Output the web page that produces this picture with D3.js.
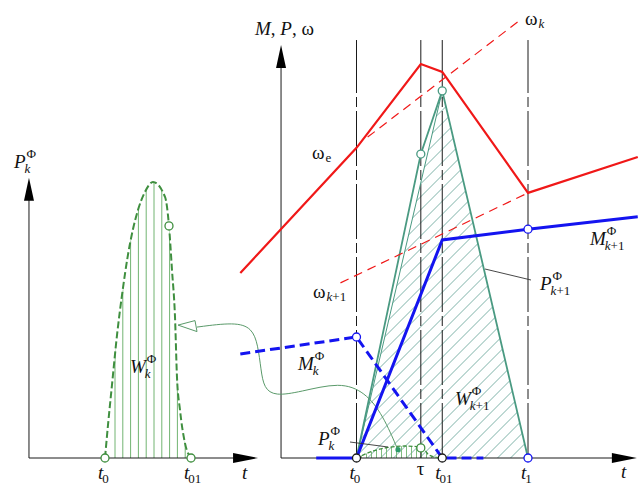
<!DOCTYPE html>
<html>
<head>
<meta charset="utf-8">
<script src="https://cdn.jsdelivr.net/npm/d3@7"></script>
<style>
  body { margin: 0; background: #fff; }
  svg { display: block; }
  text { font-family: "Liberation Serif", "Times New Roman", serif; fill: #111; }
</style>
</head>
<body>
<svg id="chart"></svg>
<script>
// Time marks (t0 = 0, t01 = 1)
const markTimes = [0, 0.75, 1, 2];
const markMain = ["t", "τ", "t", "t"];
const markSub = ["0", "", "01", "1"];

// Left panel: P_k^Φ pulse (normalised, peak = 1)
const pkT = [0, 0.035, 0.081, 0.14, 0.198, 0.267, 0.384, 0.465, 0.558, 0.698, 0.744, 0.779, 0.814, 0.837, 0.872, 0.93, 1];
const pkV = [0, 0.12, 0.264, 0.446, 0.591, 0.736, 0.899, 0.964, 1, 0.946, 0.841, 0.681, 0.511, 0.293, 0.174, 0.054, 0];

// Right panel series (value units 0..100)
const omegaT = [-1.355, 0, 0.75, 1, 2, 3.28];
const omegaV = [44.8, 75.1, 95.4, 93.5, 64.2, 72.9];
const omegaKT = [0.13, 1.88];
const omegaKV = [77.7, 105.6];
const omegaK1T = [-0.187, 2];
const omegaK1V = [42.4, 64.2];
const mkT = [-1.355, 0, 1, 1.48];
const mkV = [25.2, 29.3, 0, 0];
const mk1T = [-0.47, 0, 1, 2, 3.28];
const mk1V = [0, 0, 52.8, 55.4, 58.4];
const pk1T = [0, 0.75, 1, 2];
const pk1V = [0, 73.6, 88.9, 0];

// connector from the small pulse to the enlarged one
const linkT = [-1.86, -1.417, -1.219, -1.149, -1.114, -1.079, -0.95, -0.659, -0.192, 0.099, 0.309, 0.484];
const linkV = [31.7, 32.9, 31.5, 27.4, 21.3, 16.9, 15.0, 16.0, 18.4, 16.0, 10.4, 1.9];

const W = 640, H = 487;
const svg = d3.select("#chart").attr("width", W).attr("height", H);

const xL = d3.scaleLinear().domain([0, 1]).range([105, 191]);
const yL = d3.scaleLinear().domain([0, 1]).range([458, 182]);
const xR = d3.scaleLinear().domain([0, 2]).range([356.5, 528]);
const yR = d3.scaleLinear().domain([0, 100]).range([458, 45]);
const yH = d3.scaleLinear().domain([0, 1]).range([458, 446]);

const leftAxisT = [-0.884, 1.78], leftAxisTop = 1.015;
const rightAxisT = [-0.88, 3.27], rightAxisTop = 100;

const AX = "#1a1a1a";
const RED = "#f01818", BLUE = "#1414f0", TEAL = "#4a9a82", HATCH = "#7fb2a8";
const GREEN = "#3f8f3f", LGREEN = "#72b472";

const defs = svg.append("defs");
const zip = (ts, vs) => ts.map((t, i) => [t, vs[i]]);

// ---------- hatching ----------
const triPts = [[0, 0], [1, 88.9], [2, 0]];
defs.append("clipPath").attr("id", "tri").append("path")
  .attr("d", d3.line().x(d => xR(d[0])).y(d => yR(d[1]))(triPts) + "Z");
svg.append("g").attr("clip-path", "url(#tri)")
  .selectAll("line").data(d3.range(xR(0) - 420, xR(2) + 10, 13)).join("line")
  .attr("x1", d => d).attr("y1", 460).attr("x2", d => d + 430).attr("y2", 30)
  .attr("stroke", HATCH).attr("stroke-width", 1);

const pkData = zip(pkT, pkV);
const areaL = d3.area().curve(d3.curveMonotoneX).x(d => xL(d[0])).y0(yL(0)).y1(d => yL(d[1]));
defs.append("clipPath").attr("id", "pl").append("path").attr("d", areaL(pkData));
svg.append("g").attr("clip-path", "url(#pl)")
  .selectAll("line").data(d3.range(xL(0) + 10, xL(1), 7.8)).join("line")
  .attr("x1", d => d).attr("x2", d => d).attr("y1", yL(0)).attr("y2", yL(1.05))
  .attr("stroke", LGREEN).attr("stroke-width", 1);

const areaH = d3.area().curve(d3.curveMonotoneX).x(d => xR(d[0])).y0(yH(0)).y1(d => yH(d[1]));
defs.append("clipPath").attr("id", "ph").append("path").attr("d", areaH(pkData));
svg.append("g").attr("clip-path", "url(#ph)")
  .selectAll("line").data(d3.range(xR(0) + 5, xR(1), 5)).join("line")
  .attr("x1", d => d).attr("x2", d => d).attr("y1", yH(0)).attr("y2", yH(1.2))
  .attr("stroke", LGREEN).attr("stroke-width", 0.9);

// ---------- axes ----------
function arrowUp(x, y) {
  svg.append("path").attr("d", `M${x},${y} L${x - 5},${y + 23} L${x + 5},${y + 23} Z`).attr("fill", "#000");
}
function arrowRight(x, y) {
  svg.append("path").attr("d", `M${x},${y} L${x - 25},${y - 5} L${x - 25},${y + 5} Z`).attr("fill", "#000");
}
svg.append("line").attr("x1", xL(leftAxisT[0])).attr("x2", xL(leftAxisT[1]) - 5)
  .attr("y1", yL(0)).attr("y2", yL(0)).attr("stroke", AX);
svg.append("line").attr("x1", xL(leftAxisT[0])).attr("x2", xL(leftAxisT[0]))
  .attr("y1", yL(0)).attr("y2", yL(leftAxisTop) + 5).attr("stroke", AX);
arrowUp(xL(leftAxisT[0]), yL(leftAxisTop));
arrowRight(xL(leftAxisT[1]), yL(0));

svg.append("line").attr("x1", xR(rightAxisT[0])).attr("x2", xR(rightAxisT[1]) - 5)
  .attr("y1", yR(0)).attr("y2", yR(0)).attr("stroke", AX);
svg.append("line").attr("x1", xR(rightAxisT[0])).attr("x2", xR(rightAxisT[0]))
  .attr("y1", yR(0)).attr("y2", yR(rightAxisTop) + 5).attr("stroke", AX);
arrowUp(xR(rightAxisT[0]), yR(rightAxisTop));
arrowRight(xR(rightAxisT[1]), yR(0));

// vertical time marks
svg.selectAll(".mark").data(markTimes).join("line").attr("class", "mark")
  .attr("x1", d => xR(d)).attr("x2", d => xR(d))
  .attr("y1", yR(0)).attr("y2", yR(101.2))
  .attr("stroke", AX).attr("stroke-width", 1)
  .attr("stroke-dasharray", "55,4,10,4");

// ---------- lines ----------
const lineR = d3.line().x(d => xR(d[0])).y(d => yR(d[1]));

// P_{k+1}
svg.append("path").attr("d", lineR([[0, 0], [1, 88.9]]))
  .attr("fill", "none").attr("stroke", TEAL).attr("stroke-width", 1);
svg.append("path").attr("d", lineR(zip(pk1T, pk1V)))
  .attr("fill", "none").attr("stroke", TEAL).attr("stroke-width", 1.8);

// P_k enlarged (left) and actual (right)
svg.append("path").attr("d", d3.line().curve(d3.curveMonotoneX).x(d => xL(d[0])).y(d => yL(d[1]))(pkData))
  .attr("fill", "none").attr("stroke", GREEN).attr("stroke-width", 2).attr("stroke-dasharray", "7,3");
svg.append("path").attr("d", d3.line().curve(d3.curveMonotoneX).x(d => xR(d[0])).y(d => yH(d[1]))(pkData))
  .attr("fill", "none").attr("stroke", GREEN).attr("stroke-width", 1.3).attr("stroke-dasharray", "4,2");

// connector
svg.append("path").attr("d", d3.line().curve(d3.curveBasis).x(d => xR(d[0])).y(d => yR(d[1]))(zip(linkT, linkV)))
  .attr("fill", "none").attr("stroke", "#5a9a6a").attr("stroke-width", 1);
{
  const tx = xR(linkT[0]) - 19, ty = yR(linkV[0]) - 2;
  svg.append("path").attr("d", `M${tx},${ty} L${tx + 17},${ty - 4.5} L${tx + 19},${ty + 6.5} Z`)
    .attr("fill", "#fff").attr("stroke", "#5a9a6a").attr("stroke-width", 1);
}

// omega lines
svg.append("path").attr("d", lineR(zip(omegaKT, omegaKV)))
  .attr("fill", "none").attr("stroke", RED).attr("stroke-width", 1.2).attr("stroke-dasharray", "9,6");
svg.append("path").attr("d", lineR(zip(omegaK1T, omegaK1V)))
  .attr("fill", "none").attr("stroke", RED).attr("stroke-width", 1.2).attr("stroke-dasharray", "9,6");
svg.append("path").attr("d", lineR(zip(omegaT, omegaV)))
  .attr("fill", "none").attr("stroke", RED).attr("stroke-width", 2.2);

// moments
svg.append("path").attr("d", lineR(zip(mk1T, mk1V)))
  .attr("fill", "none").attr("stroke", BLUE).attr("stroke-width", 3);
svg.append("path").attr("d", lineR(zip(mkT, mkV)))
  .attr("fill", "none").attr("stroke", BLUE).attr("stroke-width", 3).attr("stroke-dasharray", "10,5");

// leader lines
svg.append("line").attr("x1", 485).attr("y1", 269).attr("x2", 531).attr("y2", 280).attr("stroke", "#333").attr("stroke-width", 0.9);
svg.append("line").attr("x1", 350).attr("y1", 442).attr("x2", 388).attr("y2", 447).attr("stroke", "#333").attr("stroke-width", 0.9);

// ---------- points ----------
function ring(x, y, color) {
  svg.append("circle").attr("cx", x).attr("cy", y).attr("r", 4)
    .attr("fill", "#fff").attr("stroke", color).attr("stroke-width", 1.3);
}
ring(xL(0), yL(0), GREEN);
ring(xL(1), yL(0), GREEN);
ring(xL(0.744), yL(0.841), GREEN);
ring(xR(0.75), yR(73.6), TEAL);
ring(xR(1), yR(88.9), TEAL);
ring(xR(0.75), yH(0.841), GREEN);
ring(xR(0), yR(mkV[1]), BLUE);
ring(xR(2), yR(mk1V[3]), BLUE);
ring(xR(2), yR(0), BLUE);
ring(xR(0), yR(0), AX);
ring(xR(1), yR(0), AX);
svg.append("circle").attr("cx", xR(linkT[linkT.length - 1])).attr("cy", yR(linkV[linkV.length - 1]) - 0.5)
  .attr("r", 2.6).attr("fill", "#2e9a6a");

// ---------- labels ----------
function label(x, y, main, italic, sup, sub, subDy = 5, size = 19) {
  const m = svg.append("text").attr("x", x).attr("y", y).attr("font-size", size)
    .attr("font-style", italic ? "italic" : "normal").text(main);
  const w = m.node().getComputedTextLength();
  if (sup) svg.append("text").attr("x", x + w + 1).attr("y", y - 10).attr("font-size", 13).text(sup);
  if (sub) {
    const s = svg.append("text").attr("x", x + w + (italic ? -1 : 1)).attr("y", y + subDy).attr("font-size", 13);
    sub.forEach(([txt, it]) => s.append("tspan").attr("font-style", it ? "italic" : "normal").text(txt));
  }
}
const K = [["k", true]], K1 = [["k", true], ["+1", false]];

label(14, 168, "P", true, "Φ", K);
label(130, 373, "W", true, "Φ", K);
label(298, 370, "M", true, "Φ", K);
label(318, 445, "P", true, "Φ", K);
label(540, 290, "P", true, "Φ", K1);
label(590, 245, "M", true, "Φ", K1);
label(455, 405, "W", true, "Φ", K1);
label(525, 25, "ω", false, null, K, 3);
label(312, 159, "ω", false, null, [["e", false]], 3);
label(313, 298, "ω", false, null, [[" k", true], ["+1", false]], 3);

{
  const t = svg.append("text").attr("x", 255).attr("y", 35).attr("font-size", 19);
  t.append("tspan").attr("font-style", "italic").text("M");
  t.append("tspan").text(", ");
  t.append("tspan").attr("font-style", "italic").text("P");
  t.append("tspan").text(", ω");
}

// time labels, left and right
[0, 2].forEach(j => {
  label(xL(markTimes[j]) - 7, 479, markMain[j], true, null, [[markSub[j], false]], 4);
});
label(xL(leftAxisT[1]) - 16, 479, "t", true, null, null);
markTimes.forEach((t, i) => {
  if (markSub[i]) label(xR(t) - 7, 479, markMain[i], true, null, [[markSub[i], false]], 4);
  else label(xR(t) - 4, 475, markMain[i], false, null, null);
});
label(xR(rightAxisT[1]) - 16, 478, "t", true, null, null);
</script>
</body>
</html>
